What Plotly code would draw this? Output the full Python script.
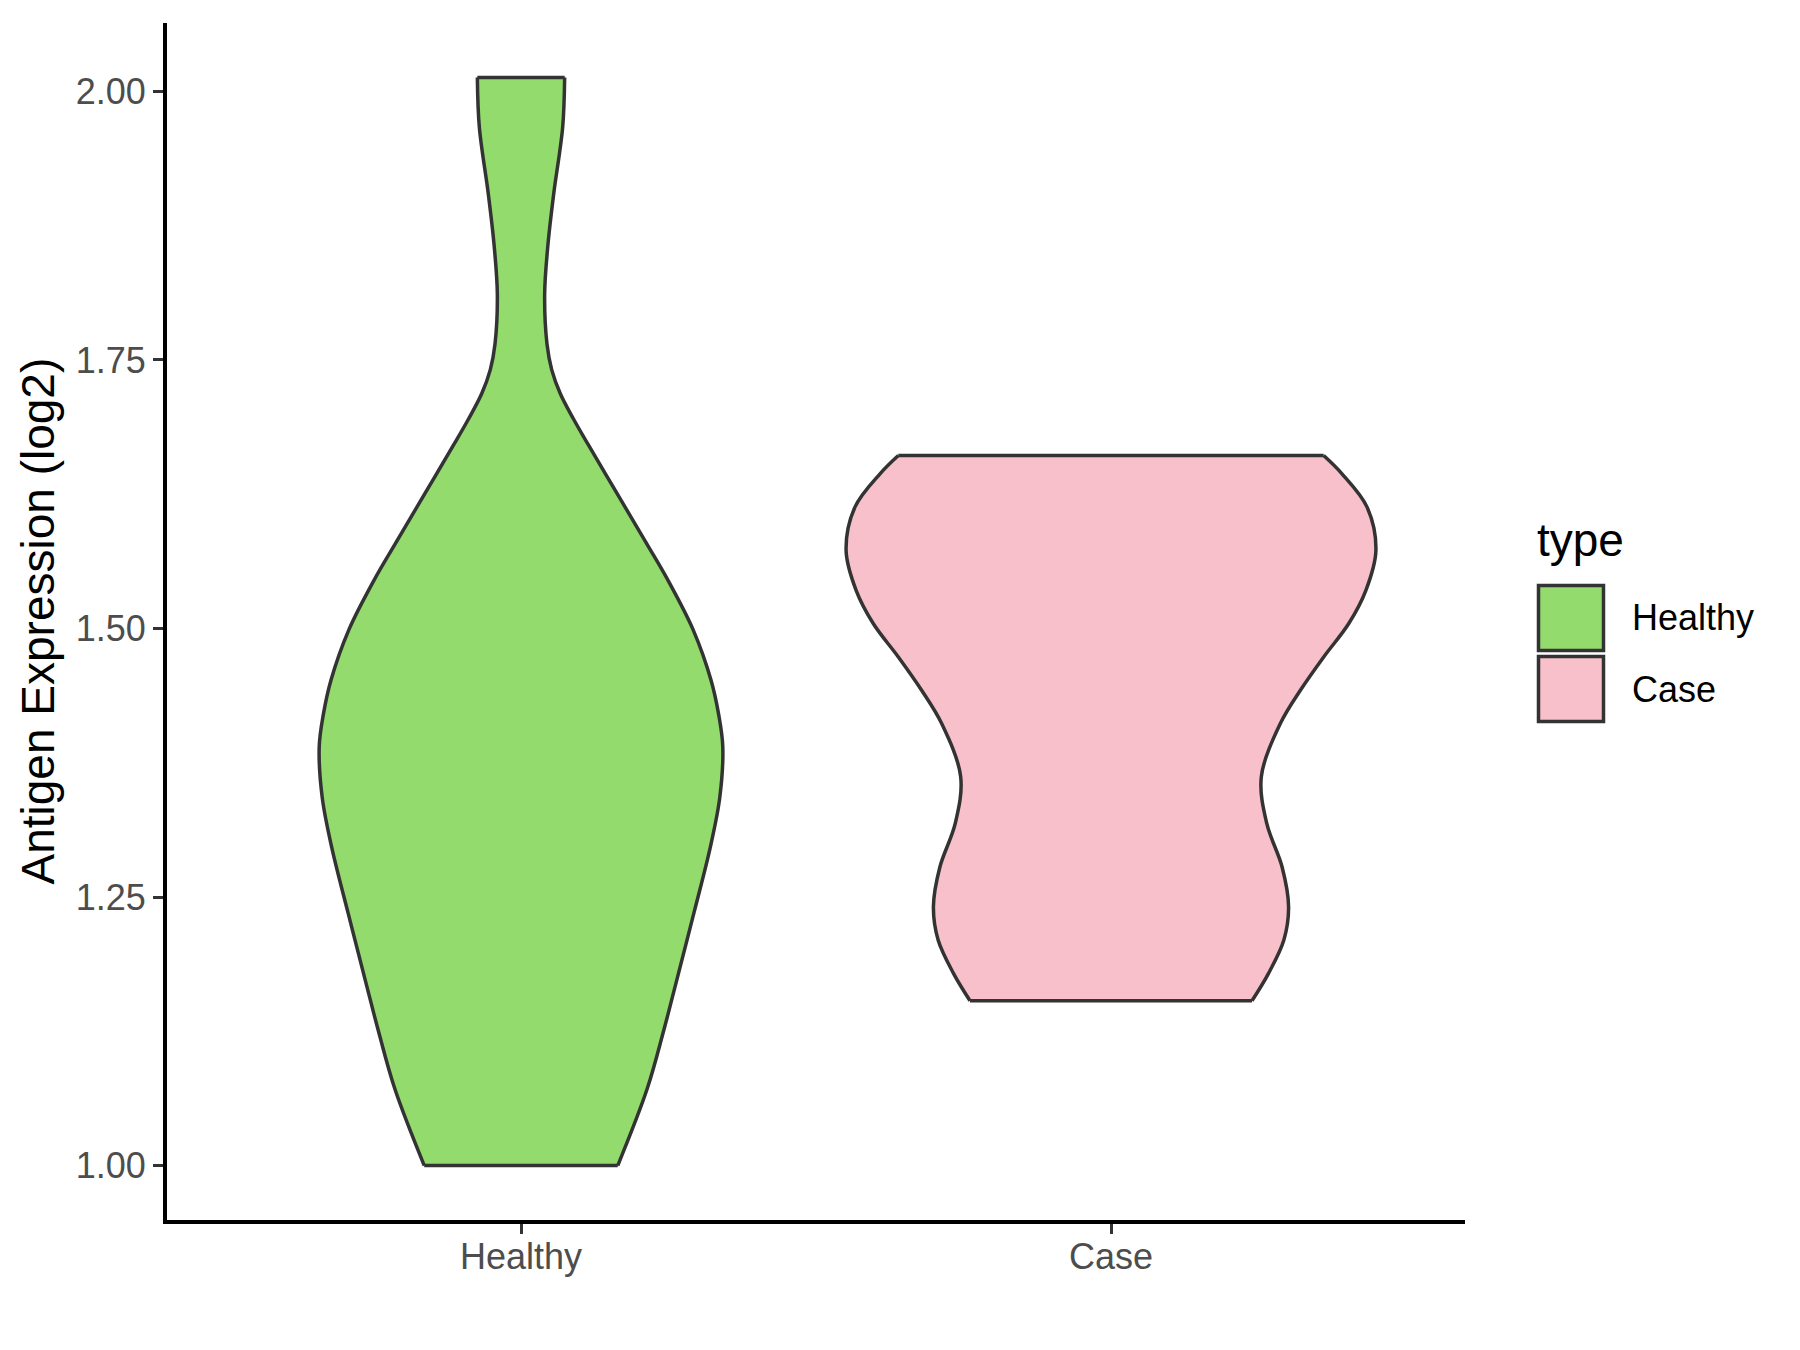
import plotly.graph_objects as go

# ---- data (violin outlines: value vs. half-width) ----
categories = ["Healthy", "Case"]
fill_colors = ["#93DB6C", "#F7C0CB"]

healthy_y = [2.013, 1.9665, 1.9045, 1.858, 1.8115, 1.765, 1.741, 1.7185, 1.695, 1.672,
             1.6255, 1.579, 1.545, 1.4985, 1.452, 1.42, 1.390, 1.343, 1.2967, 1.235,
             1.1727, 1.126, 1.071, 1.0]
healthy_halfwidth = [0.074, 0.0706, 0.0554, 0.0458, 0.0401, 0.044, 0.052, 0.0667, 0.089, 0.113,
                     0.163, 0.213, 0.249, 0.292, 0.322, 0.335, 0.342, 0.337, 0.321, 0.293,
                     0.264, 0.242, 0.2136, 0.164]

case_y = [1.661, 1.644, 1.613, 1.5727, 1.5355, 1.5046, 1.4735, 1.4425, 1.4115,
          1.362, 1.3185, 1.278, 1.241, 1.210, 1.179, 1.1535]
case_halfwidth = [0.3605, 0.3915, 0.434, 0.449, 0.432, 0.403, 0.3605, 0.321, 0.287,
                  0.2548, 0.264, 0.290, 0.301, 0.293, 0.267, 0.239]

y_ticks = [1.00, 1.25, 1.50, 1.75, 2.00]
y_title = "Antigen Expression (log2)"
legend_title = "type"

profiles = [(healthy_y, healthy_halfwidth), (case_y, case_halfwidth)]

OUTLINE = "#333333"
FONT = "Arial, 'Liberation Sans', sans-serif"
LW = 3.5

fig = go.Figure()

for i, (cat, (ys, hw)) in enumerate(zip(categories, profiles)):
    center = i + 1
    left = [center - w for w in hw]
    right = [center + w for w in hw]
    fig.add_trace(go.Scatter(x=left, y=ys, mode="lines",
                             line=dict(width=0, shape="spline", color=OUTLINE),
                             showlegend=False, hoverinfo="skip"))
    fig.add_trace(go.Scatter(x=right, y=ys, mode="lines", fill="tonextx",
                             fillcolor=fill_colors[i],
                             line=dict(width=0, shape="spline", color=OUTLINE),
                             showlegend=False, hoverinfo="skip"))
for i, (cat, (ys, hw)) in enumerate(zip(categories, profiles)):
    center = i + 1
    left = [center - w for w in hw]
    right = [center + w for w in hw]
    for xs in (left, right):
        fig.add_trace(go.Scatter(x=xs, y=ys, mode="lines",
                                 line=dict(width=LW, shape="spline", color=OUTLINE),
                                 showlegend=False, hoverinfo="skip"))
    fig.add_trace(go.Scatter(
        x=[left[0], right[0], None, left[-1], right[-1]],
        y=[ys[0], ys[0], None, ys[-1], ys[-1]],
        mode="lines", line=dict(width=LW, color=OUTLINE),
        showlegend=False, hoverinfo="skip"))

all_y = healthy_y + case_y
ymin, ymax = min(all_y), max(all_y)
pad = (ymax - ymin) * 0.05

# page layout (page has an 8px body margin)
OFF = 8
PL, PR, PT, PB = 167.0, 1465.0, 23.4, 1219.6   # plot edges in page pixels
W, H = 1800 - OFF, 1350 - OFF
L, T = PL - OFF, PT - OFF
R = W - L - (PR - PL)
B = H - T - (PB - PT)
pw, ph = PR - PL, PB - PT


def px(xp):
    return (xp - PL) / pw


def py(yp):
    return (PB - yp) / ph


shapes = []
annotations = []
key_tops = [584, 655]
key_h = 68
for i, cat in enumerate(categories):
    y0p = key_tops[i]
    shapes.append(dict(type="rect", xref="paper", yref="paper",
                       x0=px(1538.5), x1=px(1603.5),
                       y0=py(y0p + key_h - 1.5), y1=py(y0p + 1.5),
                       fillcolor=fill_colors[i],
                       line=dict(color=OUTLINE, width=LW)))
    annotations.append(dict(xref="paper", yref="paper", x=px(1630), y=py(y0p + key_h / 2),
                            xanchor="left", yanchor="middle", showarrow=False,
                            text=cat, font=dict(size=36, color="black", family=FONT)))
annotations.append(dict(xref="paper", yref="paper", x=px(1535), y=py(540),
                        xanchor="left", yanchor="middle", showarrow=False,
                        text=legend_title, font=dict(size=46, color="black", family=FONT)))
annotations.append(dict(xref="paper", yref="paper", x=px(37), y=0.5,
                        xanchor="center", yanchor="middle", showarrow=False, textangle=-90,
                        text=y_title, font=dict(size=46, color="black", family=FONT)))

fig.update_layout(
    width=W, height=H,
    margin=dict(l=L, r=R, t=T, b=B, pad=0),
    plot_bgcolor="white", paper_bgcolor="white",
    showlegend=False,
    font=dict(family=FONT),
    shapes=shapes, annotations=annotations,
    xaxis=dict(range=[0.4, 2.6], tickvals=[1, 2], ticktext=categories,
               showline=True, linecolor="black", linewidth=4,
               ticks="outside", ticklen=10, tickwidth=2.5, tickcolor=OUTLINE,
               ticklabelstandoff=-8,
               tickfont=dict(size=36, color="#4D4D4D", family=FONT),
               showgrid=False, zeroline=False),
    yaxis=dict(range=[ymin - pad, ymax + pad], tickvals=y_ticks,
               ticktext=[f"{v:.2f}" for v in y_ticks],
               showline=True, linecolor="black", linewidth=4,
               ticks="outside", ticklen=10, tickwidth=2.5, tickcolor=OUTLINE,
               tickfont=dict(size=36, color="#4D4D4D", family=FONT),
               showgrid=False, zeroline=False),
)

fig.write_html("out.html")
